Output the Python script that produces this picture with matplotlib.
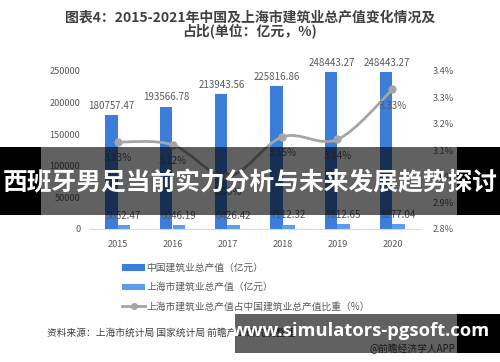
import numpy as np
import matplotlib
matplotlib.use("Agg")
import matplotlib.pyplot as plt
from matplotlib.path import Path
from matplotlib.patches import PathPatch, Rectangle
from matplotlib.lines import Line2D
from matplotlib.patches import Patch

plt.rcParams['font.family'] = ['Noto Sans CJK SC', 'DejaVu Sans']

years = ['2015', '2016', '2017', '2018', '2019', '2020']
china_output = [180757.47, 193566.78, 213943.56, 225816.86, 248443.27, 248443.27]
shanghai_output = [5652.47, 6046.19, 6426.42, 7112.32, 7812.65, 8277.04]
share_pct = [3.13, 3.12, 3.00, 3.15, 3.14, 3.33]
left_ticks = [0, 50000, 100000, 150000, 200000, 250000]
right_ticks = [2.8, 2.9, 3.0, 3.1, 3.2, 3.3, 3.4]

title1 = '图表4：2015-2021年中国及上海市建筑业总产值变化情况及'
title2 = '占比(单位：亿元，%)'
legend_labels = ['中国建筑业总产值（亿元）', '上海市建筑业总产值（亿元）',
                 '上海市建筑业总产值占中国建筑业总产值比重（%）']
source = '资料来源：上海市统计局 国家统计局 前瞻产业研究院整理'
credit = '@前瞻经济学人APP'
banner = '西班牙男足当前实力分析与未来发展趋势探讨'
url = 'www.simulators-pgsoft.com'

C_CHINA = '#3b7dd8'
C_SH = '#5b9cf0'
C_LINE = '#a5a5a5'
C_TXT = '#595959'

W, H = 500, 362
fig = plt.figure(figsize=(5, 3.62), dpi=100)
fig.patch.set_facecolor('white')

def fx(px): return px / W
def fy(py): return 1 - py / H

ax = fig.add_axes([fx(90), fy(229), fx(420) - fx(90), fy(71) - fy(229)])
ax2 = ax.twinx()

x = np.arange(len(years))
bw = 0.22
ax.bar(x - bw / 2, china_output, width=bw, color=C_CHINA, zorder=2)
ax.bar(x + bw / 2, shanghai_output, width=bw, color=C_SH, zorder=2)
ax.set_xlim(-0.5, len(years) - 0.5)
ax.set_ylim(0, 250000)
ax.set_yticks(left_ticks)
ax.set_yticklabels([str(v) for v in left_ticks])
ax.set_xticks(x)
ax.set_xticklabels(years)
ax.tick_params(axis='both', length=0, labelsize=6.6, colors=C_TXT)
ax.tick_params(axis='y', pad=7)
ax.tick_params(axis='x', pad=8)
for s in ['top', 'left', 'right']:
    ax.spines[s].set_visible(False)
ax.spines['bottom'].set_color('#d9d9d9')

for xi, v in zip(x, china_output):
    ax.annotate(f'{v:.2f}', (xi - bw / 2, v), xytext=(0, 3), textcoords='offset points',
                ha='center', va='bottom', fontsize=7, color=C_TXT, annotation_clip=False)
for xi, v in zip(x, shanghai_output):
    ax.annotate(f'{v:.2f}', (xi + bw / 2, v), xytext=(0, 3), textcoords='offset points',
                ha='center', va='bottom', fontsize=7, color=C_TXT, annotation_clip=False)

ax2.set_ylim(2.8, 3.4)
ax2.set_yticks(right_ticks)
ax2.set_yticklabels([f'{v:.1f}%' for v in right_ticks])
ax2.tick_params(axis='y', length=0, labelsize=6.6, colors=C_TXT, pad=9)
for s in ['top', 'left', 'right', 'bottom']:
    ax2.spines[s].set_visible(False)

# smooth line (Catmull-Rom -> cubic Bezier)
pts = np.column_stack([x, share_pct]).astype(float)
n = len(pts)
verts = [tuple(pts[0])]
codes = [Path.MOVETO]
for i in range(n - 1):
    p0 = pts[i - 1] if i > 0 else pts[i]
    p1 = pts[i]
    p2 = pts[i + 1]
    p3 = pts[i + 2] if i + 2 < n else pts[i + 1]
    c1 = p1 + (p2 - p0) / 6
    c2 = p2 - (p3 - p1) / 6
    verts += [tuple(c1), tuple(c2), tuple(p2)]
    codes += [Path.CURVE4] * 3
ax2.add_patch(PathPatch(Path(verts, codes), facecolor='none', edgecolor=C_LINE, lw=2, zorder=3))
ax2.plot(x, share_pct, 'o', color=C_LINE, ms=5, zorder=4)
for xi, v in zip(x, share_pct):
    ax2.annotate(f'{v:.2f}%', (xi, v), xytext=(0, -8), textcoords='offset points',
                 ha='center', va='top', fontsize=7, color=C_TXT)

# title
fig.text(0.5, fy(18), title1, ha='center', va='center', fontsize=10, fontweight='bold', color='#404040')
fig.text(0.5, fy(31), title2, ha='center', va='center', fontsize=10, fontweight='bold', color='#404040')

# legend
handles = [Patch(facecolor=C_CHINA), Patch(facecolor=C_SH),
           Line2D([0], [0], color=C_LINE, lw=2, marker='o', ms=4)]
fig.legend(handles, legend_labels, loc='upper left', bbox_to_anchor=(fx(117), fy(258)),
           frameon=False, fontsize=7, labelcolor=C_TXT, handlelength=2.4, handleheight=0.6,
           handletextpad=0.1, labelspacing=0.95, borderpad=0)

fig.text(fx(47), fy(333), source, ha='left', va='center', fontsize=7, color='#404040')
fig.text(fx(455), fy(349), credit, ha='right', va='center', fontsize=7, color='#404040')

# overlay banners
fig.add_artist(Rectangle((0, fy(215)), fx(41), fy(147) - fy(215), transform=fig.transFigure,
                         facecolor='black', edgecolor='none', zorder=10))
fig.add_artist(Rectangle((fx(457), fy(215)), fx(43), fy(147) - fy(215), transform=fig.transFigure,
                         facecolor='black', edgecolor='none', zorder=10))
fig.add_artist(Rectangle((fx(41), fy(215)), fx(416), fy(147) - fy(215), transform=fig.transFigure,
                         facecolor='black', alpha=0.62, edgecolor='none', zorder=10))
fig.text(0.5, fy(183), banner, ha='center', va='center', fontsize=17.8, fontweight='bold',
         color='white', zorder=11)

fig.add_artist(Rectangle((fx(235), fy(353)), fx(222), fy(314) - fy(353), transform=fig.transFigure,
                         facecolor='black', alpha=0.62, edgecolor='none', zorder=10))
fig.add_artist(Rectangle((fx(457), fy(353)), fx(43), fy(314) - fy(353), transform=fig.transFigure,
                         facecolor='black', edgecolor='none', zorder=10))
fig.text(fx(361), fy(331), url, ha='center', va='center', fontsize=13.2, fontweight='bold',
         family=['Open Sans', 'DejaVu Sans'], color='white', zorder=11)

fig.savefig('out.png', dpi=100, facecolor='white')
